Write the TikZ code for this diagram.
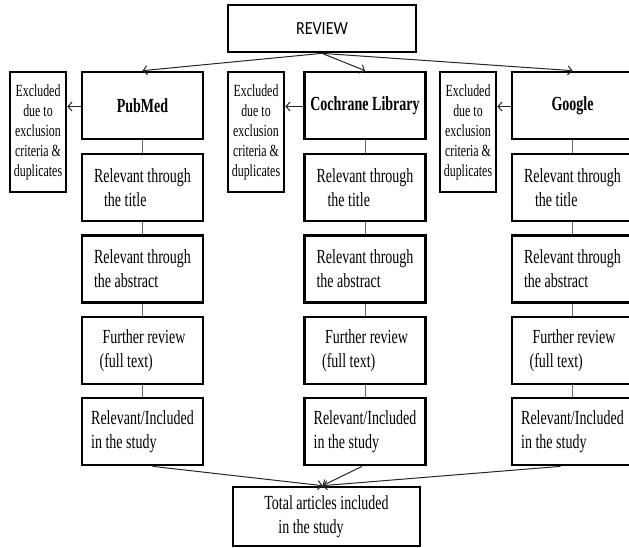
\documentclass[tikz,border=0pt]{standalone}
\usepackage{fontspec}
\setmainfont{Liberation Serif}[FakeStretch=0.7]
\newfontfamily\revfont{Carlito}[FakeStretch=0.87]
\usetikzlibrary{arrows.meta}
\colorlet{colorLK}{gray!80!black}
\colorlet{colorAR}{black!85}
\tikzset{
   every path/.style={>={Straight Barb[length=4pt,width=9pt]}},
   box/.style={draw,line width=2.7pt,inner sep=0pt,minimum width=121pt,minimum height=67pt,align=left,font=\fontsize{20}{24}\selectfont},
   exbox/.style={draw,line width=2.7pt,inner sep=0pt,minimum width=56pt,minimum height=120pt,align=center,font=\fontsize{17}{20}\selectfont},
   lk/.style={color=colorLK,line width=1pt},
   ar/.style={->,color=colorAR,line width=1pt},
 }
\newcommand{\dlk}[2]{\draw[lk] (#1) -- (#2)}
\newcommand{\dar}[2]{\draw[ar] (#1) -- (#2)}
\newcommand{\dex}[2]{\draw[ar] ([yshift=-1pt]#1.west) -- ([yshift=-1pt]#1.west -| #2.east)}
\newcommand{\extext}{Excluded\\due to\\exclusion\\criteria \&\\duplicates}

\begin{document}
\begin{tikzpicture}[x=1pt,y=-1pt]
      \clip (0,0) rectangle (629,547);

      \node[box,minimum width=188pt,minimum height=47pt,font=\revfont\fontsize{18.5}{22}\selectfont] (REV) at (322,28.5) {REVIEW};

      \node[box,font=\bfseries\fontsize{20}{24}\selectfont] (PM0) at (142.5,105.5) {PubMed};
      \node[exbox] (PMX) at (38,132) {\extext};
      \node[box] (PM1) at (142.5,187.5) {Relevant through\\\hspace{10pt}the title};
      \node[box] (PM2) at (142.5,269) {Relevant through\\the abstract};
      \node[box] (PM3) at (142.5,350.5) {\hspace{3pt}Further review\\(full text)};
      \node[box] (PM4) at (142.5,431.5) {Relevant/Included\\in the study};
      \dar{REV.south}{PM0.north};
      \dex{PM0}{PMX};
      \dlk{PM0}{PM1}; \dlk{PM1}{PM2}; \dlk{PM2}{PM3}; \dlk{PM3}{PM4};

      \node[box,font=\bfseries\fontsize{20}{24}\selectfont] (CL0) at (365,105.5) {Cochrane Library};
      \node[exbox] (CLX) at (256,132) {\extext};
      \node[box] (CL1) at (365,187.5) {Relevant through\\\hspace{11pt}the title};
      \node[box] (CL2) at (365,269) {Relevant through\\the abstract};
      \node[box] (CL3) at (365,350.5) {\hspace{3pt}Further review\\(full text)};
      \node[box] (CL4) at (365,431.5) {Relevant/Included\\in the study};
      \dar{REV.south}{CL0.north};
      \dex{CL0}{CLX};
      \dlk{CL0}{CL1}; \dlk{CL1}{CL2}; \dlk{CL2}{CL3}; \dlk{CL3}{CL4};

      \node[box,font=\bfseries\fontsize{20}{24}\selectfont] (GO0) at (572.5,105.5) {Google};
      \node[exbox] (GOX) at (468,132) {\extext};
      \node[box] (GO1) at (572.5,187.5) {Relevant through\\\hspace{11pt}the title};
      \node[box] (GO2) at (572.5,269) {Relevant through\\the abstract};
      \node[box] (GO3) at (572.5,350.5) {\hspace{3pt}Further review\\(full text)};
      \node[box] (GO4) at (572.5,431.5) {Relevant/Included\\in the study};
      \dar{REV.south}{GO0.north};
      \dex{GO0}{GOX};
      \dlk{GO0}{GO1}; \dlk{GO1}{GO2}; \dlk{GO2}{GO3}; \dlk{GO3}{GO4};

      \node[box,minimum width=187pt,minimum height=59pt] (TOT) at (326.5,516.5) {Total articles included\\\hspace{14pt}in the study};
      \dar{[xshift=10pt]PM4.south}{[xshift=-4pt]TOT.north};
      \dar{[xshift=-3pt]CL4.south}{[xshift=-4pt]TOT.north};
      \dar{[xshift=-12pt]GO4.south}{[xshift=-4pt]TOT.north};
    \end{tikzpicture}
\end{document}
